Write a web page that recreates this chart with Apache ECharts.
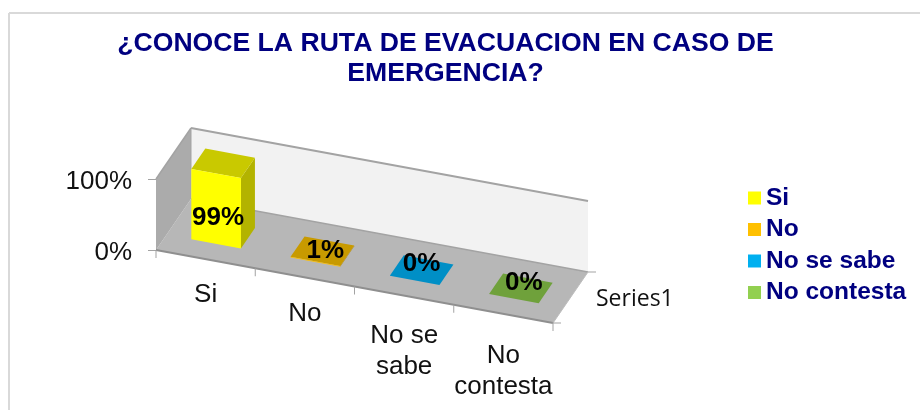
<!DOCTYPE html>
<html><head><meta charset="utf-8">
<style>html,body{margin:0;padding:0;background:#fff}#c{width:920px;height:410px}</style>
<script src="https://cdn.jsdelivr.net/npm/echarts@6/dist/echarts.min.js"></script></head>
<body><div id="c"></div>
<script>
const titleText = '¿CONOCE LA RUTA DE EVACUACION EN CASO DE\nEMERGENCIA?';
const categories = ['Si', 'No', 'No se sabe', 'No contesta'];
const axisLabels = ['Si', 'No', 'No se\nsabe', 'No\ncontesta'];
const values = [0.99, 0.01, 0, 0];
const valueLabels = ['99%', '1%', '0%', '0%'];
const swatches = ['#ffff00', '#ffc000', '#00b0f0', '#92d050'];
const topFaces = ['#c9c900', '#c89a00', '#008fc6', '#6fa13b'];
const sideFaces = ['#b3b300', '#b38600', '#007aa8', '#5f8a33'];
const depthName = 'Series1';

const FONT = '"Liberation Sans", Arial, sans-serif';
const NAVY = '#000080';
const LINE = '#a3a3a3';
const GX = 156, GY = 179, GW = 397, GH = 71;
const SKEW = 73 / 397, DX = 35, DY = -51;
// oblique projection of a flat grid pixel to the drawn 3D box
const proj = (x, y, s) => [x + s * DX, y + (x - GX) * SKEW + s * DY];
const poly = (points, fill, z2) => ({ type: 'polygon', z2: z2 || 0, shape: { points }, style: { fill } });
const seg = (a, b, stroke, lineWidth) => ({ type: 'line', shape: { x1: a[0], y1: a[1], x2: b[0], y2: b[1] }, style: { stroke, lineWidth: lineWidth || 1 } });
const labelNudge = [[2, 9], [3, 0], [0, -6], [3, -6]];
const axisLabelDrop = [20, 21, 25, 26];

function renderBox(params, api) {
  const sys = params.coordSys, x0 = sys.x, x1 = sys.x + sys.width, b = sys.y + sys.height, t = sys.y;
  const children = [
    poly([proj(x0, b, 0), proj(x1, b, 0), proj(x1, b, 1), proj(x0, b, 1)], '#b7b7b7'),
    poly([proj(x0, b, 1), proj(x1, b, 1), proj(x1, t, 1), proj(x0, t, 1)], '#f2f2f2'),
    poly([proj(x0, b, 0), proj(x0, b, 1), proj(x0, t, 1), proj(x0, t, 0)], '#ababab'),
    seg(proj(x0, t, 0), proj(x0, t, 1), LINE, 1.5),
    seg(proj(x0, t, 1), proj(x1, t, 1), LINE, 2),
    seg(proj(x0, b, 1), proj(x1, b, 1), LINE, 1.5),
    seg(proj(x0, t, 1), proj(x0, b, 1), LINE, 1),
    seg(proj(x0, b, 0), proj(x1, b, 0), '#8f8f8f', 2),
    seg(proj(x1, b, 0), proj(x1, b, 1), '#bdbdbd', 1)
  ];
  for (let i = 0; i <= categories.length; i++) {
    const p = proj(x0 + i * sys.width / categories.length, b, 0);
    children.push(seg(p, [p[0], p[1] + 8], LINE, 1));
  }
  const e0 = proj(x1, b, 0), e1 = proj(x1, b, 1);
  children.push(seg(e0, [e0[0] + 8, e0[1]], LINE, 1), seg(e1, [e1[0] + 8, e1[1]], LINE, 1));
  children.push({ type: 'text', style: { x: e1[0] + 8, y: e1[1] + 27, text: depthName, fill: '#111', font: '23px "Open Sans", sans-serif', align: 'left', verticalAlign: 'middle' } });
  return { type: 'group', children };
}

function renderCategoryLabel(params, api) {
  const c = api.value(0), base = api.coord([c, 0]), p = proj(base[0], base[1], 0);
  return { type: 'text', style: { x: p[0], y: p[1] + axisLabelDrop[c], text: axisLabels[c], fill: '#111', font: '26px ' + FONT, lineHeight: 31, align: 'center', verticalAlign: 'top' } };
}

function renderBar(params, api) {
  const c = api.value(0), i = c;
  const bot = api.coord([c, 0]), top = api.coord([c, api.value(1)]);
  const half = api.size([1, 0])[0] * 0.25;
  const l = bot[0] - half, r = bot[0] + half, s0 = 0.3, s1 = 0.7;
  const mid = proj(bot[0], top[1], 0.5), n = labelNudge[c];
  return { type: 'group', children: [
    poly([proj(r, bot[1], s0), proj(r, bot[1], s1), proj(r, top[1], s1), proj(r, top[1], s0)], sideFaces[i]),
    poly([proj(l, top[1], s0), proj(r, top[1], s0), proj(r, top[1], s1), proj(l, top[1], s1)], topFaces[i]),
    poly([proj(l, bot[1], s0), proj(r, bot[1], s0), proj(r, top[1], s0), proj(l, top[1], s0)], swatches[i]),
    { type: 'text', z2: 10, style: { x: c === 0 ? bot[0] + s0 * DX + n[0] : mid[0] + n[0],
        y: c === 0 ? (proj(bot[0], bot[1], s0)[1] + proj(bot[0], top[1], s0)[1]) / 2 + n[1] : mid[1] + n[1],
        text: valueLabels[c], fill: '#000', font: 'bold 26px ' + FONT, align: 'center', verticalAlign: 'middle' } }
  ] };
}

const series = [
  { type: 'custom', name: 'box', coordinateSystem: 'cartesian2d', silent: true, z: 1, renderItem: renderBox, data: [[0, 0]] },
  { type: 'custom', name: 'labels', coordinateSystem: 'cartesian2d', silent: true, z: 1, renderItem: renderCategoryLabel, data: categories.map((_, i) => [i, 0]) }
].concat(categories.map((name, i) => ({
  type: 'custom', name, coordinateSystem: 'cartesian2d', z: 2, renderItem: renderBar,
  itemStyle: { color: swatches[i] }, encode: { x: 0, y: 1 }, data: [[i, values[i]]]
})));

const chart = echarts.init(document.getElementById('c'), null, { renderer: 'canvas' });
chart.setOption({
  animation: false,
  backgroundColor: '#fff',
  title: { text: titleText, left: 440.5, top: 24, textAlign: 'center',
    textStyle: { color: NAVY, fontFamily: FONT, fontWeight: 'bold', fontSize: 26.6, lineHeight: 30 } },
  legend: { data: categories, orient: 'vertical', left: 748, top: 184, icon: 'rect', itemWidth: 13, itemHeight: 13, itemGap: 3.5, itemStyle: { borderWidth: 0 },
    textStyle: { color: NAVY, fontFamily: FONT, fontWeight: 'bold', fontSize: 24.5, lineHeight: 28, padding: [0, 0, 0, 0] }, formatter: n => n, padding: 0, selectedMode: false },
  grid: { left: GX, top: GY, width: GW, height: GH, containLabel: false },
  xAxis: { type: 'category', data: categories, show: false },
  yAxis: { type: 'value', min: 0, max: 1, interval: 1, splitLine: { show: false },
    axisLine: { show: true, lineStyle: { color: LINE } },
    axisTick: { show: true, length: 8, lineStyle: { color: LINE } },
    axisLabel: { margin: 24, color: '#111', fontFamily: FONT, fontSize: 26, verticalAlign: 'top', lineHeight: 6, formatter: v => Math.round(v * 100) + '%' } },
  graphic: [
    { type: 'line', z: 0, shape: { x1: 9, y1: 13, x2: 920, y2: 13 }, style: { stroke: '#d9d9d9', lineWidth: 2 } },
    { type: 'line', z: 0, shape: { x1: 9, y1: 13, x2: 9, y2: 410 }, style: { stroke: '#d9d9d9', lineWidth: 2 } }
  ],
  series
});
</script></body></html>
